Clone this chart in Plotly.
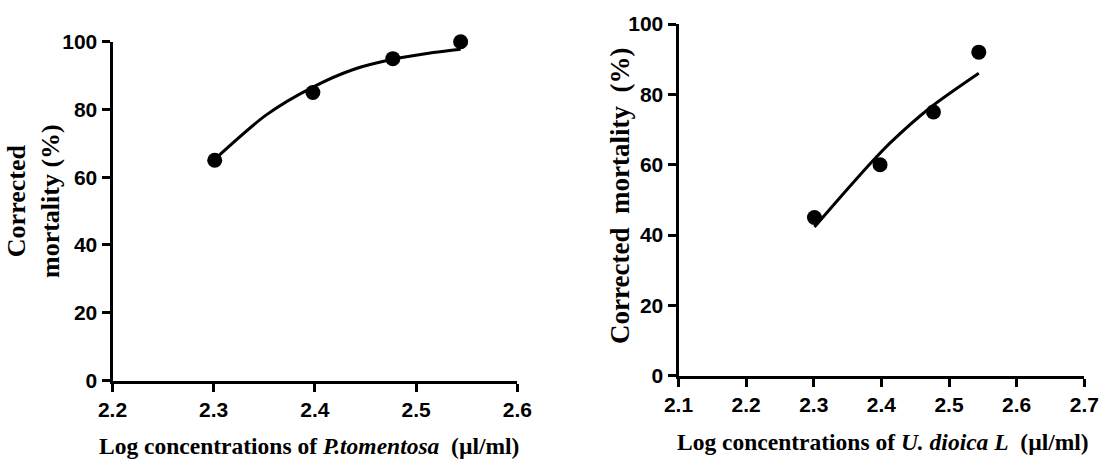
import plotly.graph_objects as go

# Data
log_conc = [2.301, 2.398, 2.477, 2.544]
pt_mortality = [65, 85, 95, 100]
ud_mortality = [45, 60, 75, 92]

# fitted curve values
pt_fit_x = [2.301, 2.352, 2.398, 2.438, 2.477, 2.517, 2.544]
pt_fit = [65.3, 78.4, 86.6, 91.8, 94.8, 96.8, 97.8]
ud_fit_x = [2.301, 2.344, 2.383, 2.413, 2.472, 2.544]
ud_fit = [42.3, 51.8, 60.2, 66.2, 76.2, 86.0]

y_ticks = [0, 20, 40, 60, 80, 100]
x_ticks_left = [2.2, 2.3, 2.4, 2.5, 2.6]
x_ticks_right = [2.1, 2.2, 2.3, 2.4, 2.5, 2.6, 2.7]

W, H = 1101, 459

tick_font = dict(family="Liberation Sans Narrow, Arial Narrow, Liberation Sans, Arial", size=21,
                 color="black", weight="bold")
serif = "Liberation Serif, Times New Roman, serif"

fig = go.Figure()

fig.add_trace(go.Scatter(x=pt_fit_x, y=pt_fit, mode="lines",
                         line=dict(color="black", width=3, shape="spline", smoothing=0.8),
                         xaxis="x", yaxis="y", showlegend=False, cliponaxis=False))
fig.add_trace(go.Scatter(x=log_conc, y=pt_mortality, mode="markers", marker=dict(color="black", size=15),
                         xaxis="x", yaxis="y", showlegend=False, cliponaxis=False))
fig.add_trace(go.Scatter(x=ud_fit_x, y=ud_fit, mode="lines",
                         line=dict(color="black", width=3, shape="spline", smoothing=0.8),
                         xaxis="x2", yaxis="y2", showlegend=False, cliponaxis=False))
fig.add_trace(go.Scatter(x=log_conc, y=ud_mortality, mode="markers", marker=dict(color="black", size=15),
                         xaxis="x2", yaxis="y2", showlegend=False, cliponaxis=False))

axis_common = dict(showgrid=False, zeroline=False, showline=True, linecolor="black", linewidth=3,
                   ticks="outside", ticklen=8, tickwidth=3, tickcolor="black", tickfont=tick_font,
                   automargin=False)

fig.update_layout(
    width=W, height=H,
    margin=dict(l=0, r=0, t=0, b=0),
    paper_bgcolor="white", plot_bgcolor="white",
    xaxis=dict(domain=[112.5/W, 517.3/W], range=[2.2, 2.6], tickvals=x_ticks_left,
               ticktext=[f"{v:.1f}" for v in x_ticks_left], anchor="y", **axis_common),
    yaxis=dict(domain=[(H-380.5)/H, (H-41.7)/H], range=[0, 100], tickvals=y_ticks, anchor="x", **axis_common),
    xaxis2=dict(domain=[678.5/W, 1084.3/W], range=[2.1, 2.7], tickvals=x_ticks_right,
                ticktext=[f"{v:.1f}" for v in x_ticks_right], anchor="y2", **axis_common),
    yaxis2=dict(domain=[(H-375.7)/H, (H-24)/H], range=[0, 100], tickvals=y_ticks, anchor="x2", **axis_common),
    annotations=[
        dict(text="<b>Log concentrations of <i>P.tomentosa</i>  (µl/ml)</b>", xref="paper", yref="paper",
             x=309/W, y=1 - 446/H, xanchor="center", yanchor="middle", showarrow=False,
             font=dict(family=serif, size=23.5, color="black")),
        dict(text="<b>Log concentrations of <i>U. dioica L</i>  (µl/ml)</b>", xref="paper", yref="paper",
             x=883/W, y=1 - 442/H, xanchor="center", yanchor="middle", showarrow=False,
             font=dict(family=serif, size=23.5, color="black")),
        dict(text="<b>Corrected<br>mortality (%)</b>", xref="paper", yref="paper",
             x=33/W, y=1 - 201/H, xanchor="center", yanchor="middle", showarrow=False, textangle=-90,
             font=dict(family=serif, size=26, color="black")),
        dict(text="<b>Corrected  mortality  (%)</b>", xref="paper", yref="paper",
             x=620/W, y=1 - 196/H, xanchor="center", yanchor="middle", showarrow=False, textangle=-90,
             font=dict(family=serif, size=27, color="black")),
    ],
)

fig.write_html("out.html")
